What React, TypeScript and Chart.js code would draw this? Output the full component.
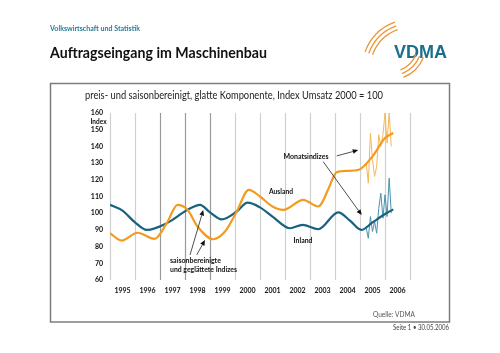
import { useEffect, useRef } from "react";
import { Chart, registerables } from "chart.js";
Chart.register(...registerables);

// Axis tick labels
const yearLabels = [1995, 1996, 1997, 1998, 1999, 2000, 2001, 2002, 2003, 2004, 2005, 2006];
const yTicks = [60, 70, 80, 90, 100, 110, 120, 130, 140, 150, 160];

// Ausland (smoothed component)
const auslandX = [1995.0, 1995.47, 1996.1, 1996.78, 1997.27, 1997.7, 1998.1, 1998.5, 1999.13, 1999.6, 2000.07, 2000.55, 2001.0, 2001.5, 2001.93, 2002.73, 2003.33, 2003.47, 2003.72, 2004.07, 2004.5, 2004.95, 2005.5, 2006.0, 2006.33];
const auslandY = [88, 83.6, 88.3, 84.6, 94, 105, 102, 92, 84.4, 89, 101, 114, 110, 104, 102, 108, 104, 106, 114, 124.5, 125.3, 126, 134, 145, 148];

// Inland (smoothed component)
const inlandX = [1995.0, 1995.5, 1996.0, 1996.47, 1997.27, 1998.1, 1998.6, 1999.0, 1999.47, 2000.07, 2000.5, 2001.0, 2001.5, 2002.2, 2002.7, 2003.33, 2004.13, 2004.6, 2005.05, 2005.5, 2006.0, 2006.33];
const inlandY = [105, 101.5, 94.5, 90, 94, 102, 105, 100.5, 96.3, 101, 106.3, 103.5, 98, 91, 93, 90.4, 100.5, 95.5, 90, 94.5, 99.5, 102.3];

// Monthly indices (Apr 2005 - Apr 2006)
const monthX = [2005.25, 2005.333, 2005.417, 2005.5, 2005.583, 2005.667, 2005.75, 2005.833, 2005.917, 2006.0, 2006.083, 2006.167, 2006.25];
const auslandMonthly = [130, 118, 148, 132, 122, 128, 147, 140, 147, 160, 142, 160, 140];
const inlandMonthly = [91, 85, 98, 89, 95, 88, 103, 112, 97, 111, 98, 121, 100];

const TEAL = "#17637f";
const TEAL_LIGHT = "#4b92ad";
const ORANGE = "#f29b1f";
const ORANGE_LIGHT = "#f5b859";
const FONT = "Lato, 'Open Sans', sans-serif";

const pts = (xs: number[], ys: number[]) => xs.map((x, i) => ({ x, y: ys[i] }));

function txt(ctx: CanvasRenderingContext2D, s: string, x: number, y: number, font: string, color: string, align: CanvasTextAlign = "left", maxW?: number, base: CanvasTextBaseline = "middle") {
  ctx.save();
  ctx.font = font;
  ctx.fillStyle = color;
  ctx.textAlign = align;
  ctx.textBaseline = base;
  if (maxW) ctx.fillText(s, x, y, maxW);
  else ctx.fillText(s, x, y);
  ctx.restore();
}

function arrow(ctx: CanvasRenderingContext2D, x1: number, y1: number, x2: number, y2: number) {
  ctx.save();
  ctx.strokeStyle = "#222";
  ctx.fillStyle = "#111";
  ctx.lineWidth = 0.8;
  const a = Math.atan2(y2 - y1, x2 - x1);
  const L = 5.5, W = 2.4;
  const bx = x2 - L * Math.cos(a), by = y2 - L * Math.sin(a);
  ctx.beginPath();
  ctx.moveTo(x1, y1);
  ctx.lineTo(bx, by);
  ctx.stroke();
  ctx.beginPath();
  ctx.moveTo(x2, y2);
  ctx.lineTo(bx + W * Math.sin(a), by - W * Math.cos(a));
  ctx.lineTo(bx - W * Math.sin(a), by + W * Math.cos(a));
  ctx.closePath();
  ctx.fill();
  ctx.restore();
}

const pagePlugin = {
  id: "page",
  beforeDraw(chart: any) {
    const ctx: CanvasRenderingContext2D = chart.ctx;
    ctx.save();
    ctx.fillStyle = "#fff";
    ctx.fillRect(0, 0, chart.width, chart.height);
    ctx.restore();
    // header
    txt(ctx, "Volkswirtschaft und Statistik", 50, 28, `bold 8px ${FONT}`, "#2a7b96", "left", 90);
    txt(ctx, "Auftragseingang im Maschinenbau", 50, 58, `bold 16px ${FONT}`, "#111", "left", 217, "alphabetic");
    // logo
    txt(ctx, "VDMA", 394, 58, `bold 18px 'Liberation Sans', Arial, sans-serif`, "#1b6e8c", "left", 55, "alphabetic");
    ctx.save();
    ctx.strokeStyle = "#ec9537";
    ctx.lineWidth = 1.3;
    [42, 46, 50].forEach((r) => {
      ctx.beginPath();
      ctx.arc(412, 69, r, (200 * Math.PI) / 180, (250 * Math.PI) / 180);
      ctx.stroke();
    });
    [28, 32, 36].forEach((r) => {
      ctx.beginPath();
      ctx.arc(390, 44, r, (22 * Math.PI) / 180, (68 * Math.PI) / 180);
      ctx.stroke();
    });
    ctx.restore();
    // frame
    ctx.save();
    ctx.strokeStyle = "#7d7d7d";
    ctx.lineWidth = 1.5;
    ctx.strokeRect(50.5, 83.5, 399, 238.5);
    ctx.restore();
    txt(ctx, "preis- und saisonbereinigt, glatte Komponente, Index Umsatz 2000 = 100", 85, 96, `10.5px ${FONT}`, "#222", "left", 298);
    txt(ctx, "Quelle: VDMA", 373, 314, `8px ${FONT}`, "#555", "left", 42);
    txt(ctx, "Seite 1 \u2022 30.05.2006", 449, 328, `7px ${FONT}`, "#444", "right", 56);
  },
  beforeDatasetsDraw(chart: any) {
    const ctx: CanvasRenderingContext2D = chart.ctx;
    const xs = chart.scales.x, ys = chart.scales.y;
    const top = ys.getPixelForValue(160), bot = ys.getPixelForValue(60);
    ctx.save();
    for (let yr = 1995; yr <= 2007; yr++) {
      const x = Math.round(xs.getPixelForValue(yr)) + 0.5;
      ctx.strokeStyle = yr >= 1997 && yr <= 1999 ? "#9a9a9a" : "#cfcfcf";
      ctx.lineWidth = 1.2;
      ctx.beginPath();
      ctx.moveTo(x, top);
      ctx.lineTo(x, bot);
      ctx.stroke();
    }
    ctx.restore();
    yTicks.forEach((v) => txt(ctx, String(v), 103, ys.getPixelForValue(v), `bold 7px ${FONT}`, "#111", "right"));
    txt(ctx, "Index", 98.5, 122, `bold 6.5px ${FONT}`, "#111", "center", 17);
    yearLabels.forEach((yr) => txt(ctx, String(yr), xs.getPixelForValue(yr + 0.5), 291, `bold 7px ${FONT}`, "#111", "center"));
  },
  afterDraw(chart: any) {
    const ctx: CanvasRenderingContext2D = chart.ctx;
    const xs = chart.scales.x, ys = chart.scales.y;
    const P = (a: number, b: number): [number, number] => [xs.getPixelForValue(a), ys.getPixelForValue(b)];
    const f = `bold 7px ${FONT}`;
    let p = P(2001.84, 112.7); txt(ctx, "Ausland", p[0], p[1], f, "#111", "center", 24);
    p = P(2002.72, 83.4); txt(ctx, "Inland", p[0], p[1], f, "#111", "center", 19);
    p = P(2002.84, 133.7); txt(ctx, "Monatsindizes", p[0], p[1], f, "#111", "center", 45);
    p = P(1997.4, 71.4); txt(ctx, "saisonbereinigte", p[0], p[1], f, "#111", "left", 58);
    p = P(1997.4, 66.0); txt(ctx, "und geglättete Indizes", p[0], p[1], f, "#111", "left", 67);
    const A = (a: number, b: number, c: number, d: number) => { const s = P(a, b), e = P(c, d); arrow(ctx, s[0], s[1], e[0], e[1]); };
    A(2004.07, 134.3, 2004.93, 137.8);
    A(2003.53, 130.8, 2005.07, 98.9);
    A(1998.2, 75, 1998.73, 101.9);
    A(1998.47, 75, 1998.8, 84);
  },
};

export default function App() {
  const ref = useRef<HTMLCanvasElement | null>(null);
  useEffect(() => {
    if (!ref.current) return;
    const chart = new Chart(ref.current, {
      type: "line",
      data: {
        datasets: [
          { data: pts(auslandX, auslandY), borderColor: ORANGE, borderWidth: 2.2, pointRadius: 0, cubicInterpolationMode: "monotone", order: 1 },
          { data: pts(inlandX, inlandY), borderColor: TEAL, borderWidth: 2.2, pointRadius: 0, cubicInterpolationMode: "monotone", order: 2 },
          { data: pts(monthX, auslandMonthly), borderColor: ORANGE_LIGHT, borderWidth: 1, pointRadius: 0, tension: 0, order: 3 },
          { data: pts(monthX, inlandMonthly), borderColor: TEAL_LIGHT, borderWidth: 1, pointRadius: 0, tension: 0, order: 4 },
        ],
      },
      options: {
        responsive: false,
        animation: false,
        devicePixelRatio: 1,
        layout: { padding: { left: 110, right: 90, top: 113, bottom: 73 } },
        scales: {
          x: { type: "linear", min: 1995, max: 2007, display: false },
          y: { type: "linear", min: 60, max: 160, display: false },
        },
        plugins: { legend: { display: false }, tooltip: { enabled: false } },
      },
      plugins: [pagePlugin],
    } as any);
    return () => chart.destroy();
  }, []);
  return (
    <div style={{ position: "absolute", left: 0, top: 0, width: 500, height: 353 }}>
      <canvas ref={ref} width={500} height={353} style={{ display: "block" }} />
    </div>
  );
}
